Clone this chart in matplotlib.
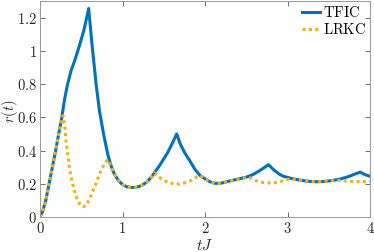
import matplotlib
matplotlib.use('Agg')
import matplotlib.pyplot as plt
from matplotlib.ticker import FuncFormatter

plt.rcParams['mathtext.fontset'] = 'cm'
plt.rcParams['font.family'] = 'serif'
plt.rcParams['font.serif'] = ['DejaVu Serif']

# TFIC curve
t_tfic = [0, 0.03, 0.07, 0.11, 0.15, 0.19, 0.23, 0.265, 0.295, 0.33, 0.376, 0.42,
          0.477, 0.53, 0.59, 0.63, 0.68, 0.72, 0.77, 0.82, 0.86, 0.90, 0.95, 1.0,
          1.05, 1.1, 1.15, 1.2, 1.25, 1.3, 1.35, 1.4, 1.45, 1.5, 1.55, 1.6, 1.657,
          1.7, 1.75, 1.82, 1.88, 1.94, 2.0, 2.06, 2.12, 2.18, 2.25, 2.3, 2.4, 2.5,
          2.58, 2.65, 2.72, 2.77, 2.83, 2.9, 2.95, 3.05, 3.15, 3.25, 3.35, 3.45,
          3.55, 3.65, 3.72, 3.8, 3.88, 3.94, 4.0]
r_tfic = [0, 0.03, 0.10, 0.20, 0.30, 0.40, 0.51, 0.60, 0.70, 0.79, 0.88, 0.94,
          1.03, 1.12, 1.255, 1.04, 0.80, 0.64, 0.50, 0.38, 0.31, 0.26, 0.22, 0.195,
          0.182, 0.178, 0.178, 0.183, 0.195, 0.213, 0.24, 0.275, 0.31, 0.35, 0.39, 0.44, 0.50,
          0.44, 0.39, 0.335, 0.285, 0.25, 0.23, 0.212, 0.203, 0.202, 0.21, 0.217, 0.228, 0.24,
          0.255, 0.275, 0.298, 0.315, 0.285, 0.258, 0.245, 0.232, 0.222, 0.215, 0.212, 0.214,
          0.22, 0.23, 0.24, 0.255, 0.27, 0.255, 0.245]

# LRKC curve
t_lrkc = [0, 0.03, 0.07, 0.11, 0.15, 0.19, 0.23, 0.265, 0.28, 0.30, 0.315, 0.335,
          0.355, 0.385, 0.416, 0.45, 0.49, 0.525, 0.56, 0.61, 0.66, 0.70, 0.74, 0.78,
          0.82, 0.86, 0.90, 0.95, 1.0, 1.05, 1.1, 1.15, 1.2, 1.25, 1.3, 1.35, 1.39,
          1.44, 1.495, 1.56, 1.62, 1.68, 1.75, 1.82, 1.88, 1.94, 2.0, 2.06, 2.12, 2.18,
          2.25, 2.3, 2.4, 2.5, 2.55, 2.6, 2.67, 2.75, 2.83, 2.9, 2.97, 3.03, 3.1, 3.2,
          3.3, 3.4, 3.5, 3.6, 3.7, 3.8, 3.9, 4.0]
r_lrkc = [0, 0.03, 0.10, 0.20, 0.30, 0.40, 0.51, 0.60, 0.61, 0.55, 0.46, 0.38,
          0.30, 0.22, 0.16, 0.11, 0.068, 0.063, 0.068, 0.12, 0.18, 0.23, 0.28, 0.32,
          0.345, 0.31, 0.26, 0.22, 0.195, 0.182, 0.178, 0.178, 0.183, 0.195, 0.213, 0.24, 0.265,
          0.24, 0.222, 0.207, 0.200, 0.198, 0.205, 0.217, 0.235, 0.25, 0.23, 0.212, 0.203, 0.202,
          0.21, 0.217, 0.228, 0.237, 0.235, 0.222, 0.21, 0.205, 0.205, 0.21, 0.222, 0.23, 0.226, 0.219,
          0.214, 0.213, 0.216, 0.222, 0.217, 0.214, 0.213, 0.214]

x_ticks = [0, 1, 2, 3, 4]
y_ticks = [0, 0.2, 0.4, 0.6, 0.8, 1.0, 1.2]

fig = plt.figure(figsize=(3.74, 2.52), dpi=100)
ax = fig.add_axes([40 / 374, 35 / 252, 330 / 374, 216 / 252])

ax.plot(t_tfic, r_tfic, color='#0072BD', lw=2.2, label=r'$\mathrm{TFIC}$')
ax.plot(t_lrkc, r_lrkc, color='#EDB120', lw=2.2, linestyle=(0, (1, 1.1)),
        label=r'$\mathrm{LRKC}$')

ax.set_xlim(0, 4)
ax.set_ylim(0, 1.3)
ax.set_xticks(x_ticks)
ax.set_yticks(y_ticks)
fmt = FuncFormatter(lambda v, p: r'$%g$' % v)
ax.xaxis.set_major_formatter(fmt)
ax.yaxis.set_major_formatter(fmt)
ax.tick_params(direction='in', length=3.5, width=0.6, color='#555555',
               labelsize=10.5, labelcolor='#262626', top=True, right=True, pad=3)
ax.tick_params(axis='y', pad=2)
for s in ax.spines.values():
    s.set_color('#999999')
    s.set_linewidth(0.7)

ax.set_xlabel(r'$tJ$', fontsize=11, color='#262626', labelpad=1.5)
ax.set_ylabel(r'$r(t)$', fontsize=10.5, color='#262626')
ax.yaxis.label.set_va('center')
ax.yaxis.set_label_coords(-0.092, 0.49)

ax.legend(loc='upper right', frameon=False, fontsize=10.5, handlelength=1.2,
          handletextpad=0.2, labelspacing=0.1, borderaxespad=0.1, borderpad=0.2)

fig.savefig('out.png', dpi=100)
